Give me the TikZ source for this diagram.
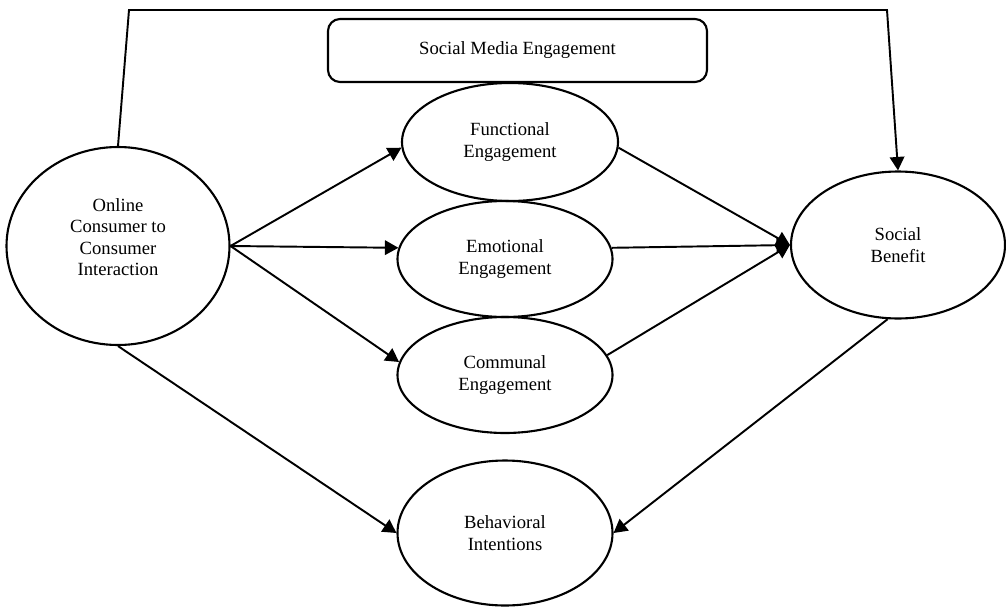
\documentclass[tikz,border=0pt]{standalone}
\usepackage{fontspec}
\setmainfont{Liberation Serif}
\usetikzlibrary{shapes.geometric, arrows.meta}

\begin{document}
\begin{tikzpicture}[
  font=\fontsize{10.6}{12.2}\selectfont,
  construct/.style={ellipse, draw, line width=1.2pt, inner sep=0pt, align=center},
  group/.style={draw, rounded corners=2.4mm, line width=1.2pt, minimum width=7.58cm, minimum height=1.26cm},
  arr/.style={-{Triangle[length=2.7mm, width=2.9mm]}, line width=1.1pt},
]
\useasboundingbox (0,0) rectangle (20.12,-12.12);
% group label
\node[group] (sme) at (10.35,-1.01) {Social Media Engagement};
% predictor
\node[construct, minimum width=4.46cm, minimum height=3.96cm,
  label={[align=center, yshift=1.8mm]center:{Online\\Consumer to\\Consumer\\Interaction}}] (occi) at (2.36,-4.92) {};
% engagement dimensions
\node[construct, minimum width=4.32cm, minimum height=2.36cm] (func) at (10.2,-2.84) {Functional\\Engagement};
\node[construct, minimum width=4.3cm, minimum height=2.32cm] (emo) at (10.1,-5.18) {Emotional\\Engagement};
\node[construct, minimum width=4.3cm, minimum height=2.32cm] (comm) at (10.1,-7.5) {Communal\\Engagement};
% outcomes
\node[construct, minimum width=4.28cm, minimum height=2.94cm] (sb) at (17.96,-4.9) {Social\\Benefit};
\node[construct, minimum width=4.3cm, minimum height=2.9cm] (beh) at (10.1,-10.66) {Behavioral\\Intentions};
% direct path over the top
\coordinate (tl) at (2.58,-0.2);
\coordinate (tr) at (17.74,-0.2);
\draw[arr] (occi.north) -- (tl) -- (tr) -- (sb.north);
% occi -> engagement
\draw[arr] (occi.east) -- (func.183);
\draw[arr] (occi.east) -- (emo.174);
\draw[arr] (occi.east) -- (comm.173);
% engagement -> social benefit
\draw[arr] (func.357) -- (sb.west);
\draw[arr] (emo.6) -- (sb.west);
\draw[arr] (comm.11) -- (sb.west);
% to behavioral intentions
\draw[arr] (occi.south) -- (beh.west);
\draw[arr] (sb.262) -- (beh.east);
\end{tikzpicture}
\end{document}
